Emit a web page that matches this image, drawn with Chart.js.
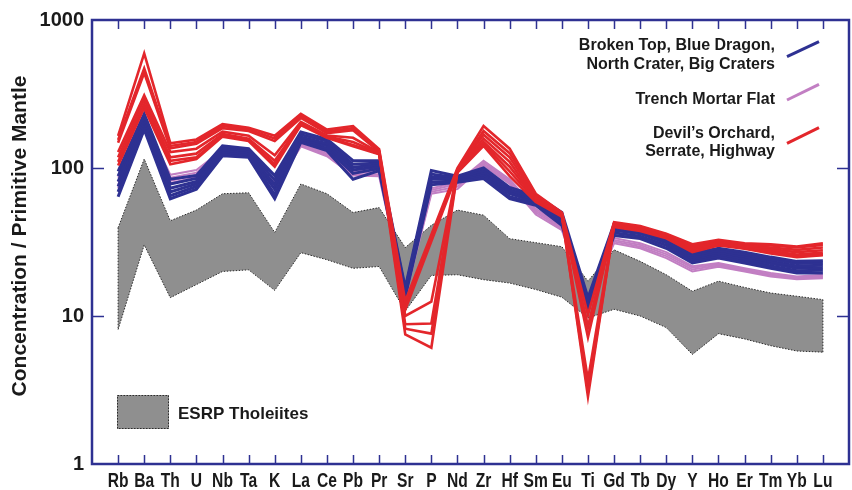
<!DOCTYPE html>
<html>
<head>
<meta charset="utf-8">
<script src="https://cdn.jsdelivr.net/npm/chart.js@4/dist/chart.umd.min.js"></script>
<style>
  html, body { margin: 0; padding: 0; background: #ffffff; }
  #wrap { width: 852px; height: 490px; position: relative; }
</style>
</head>
<body>
<div id="wrap"><canvas id="spider" width="852" height="490"></canvas></div>
<script>
// Trace elements, ordered by incompatibility
const elements = ['Rb','Ba','Th','U','Nb','Ta','K','La','Ce','Pb','Pr','Sr','P','Nd','Zr','Hf','Sm','Eu','Ti','Gd','Tb','Dy','Y','Ho','Er','Tm','Yb','Lu'];
const yTickValues = [1, 10, 100, 1000];

// ESRP tholeiite field (upper and lower envelope)
const esrpUpper = [39.5, 115, 44, 52, 67, 68, 36.7, 78, 67, 50, 54, 29, 41, 52, 48, 33.3, 31.3, 29.4, 17.2, 28, 23.4, 19, 14.7, 17.2, 15.6, 14.3, 13.6, 12.9];
const esrpLower = [8.1, 30.2, 13.3, 16.3, 20, 20.5, 14.9, 26.8, 24, 21, 21.6, 10.8, 18.8, 19, 17.6, 16.7, 15.1, 13.4, 9.7, 11.1, 10, 8.35, 5.5, 7.6, 7.0, 6.3, 5.8, 5.7];

// Broken Top, Blue Dragon, North Crater, Big Craters
const blueSamples = [
  [95, 232, 84, 89, 141, 135, 89, 175, 157, 112, 112, 15.5, 96, 88, 100, 74, 65, 50, 13.3, 42, 40, 35, 26.5, 28.7, 27, 25, 23.4, 23.6],
  [88, 222, 78, 85, 137, 131, 83, 168, 152, 106, 108, 15.0, 91, 86, 96, 71, 63, 48, 12.8, 41, 38.5, 33.5, 25.8, 27.8, 26, 24.2, 22.6, 22.8],
  [81, 212, 73, 81, 133, 127, 77, 162, 146, 101, 105, 14.6, 87, 85, 93, 69, 61, 46, 12.4, 39.5, 37, 32.3, 25, 27, 25.2, 23.4, 21.8, 22],
  [75, 203, 69, 78, 129, 124, 72, 157, 141, 97, 102, 14.2, 84, 84, 90, 67, 59, 44.5, 12.0, 38, 36, 31.2, 24.3, 26.2, 24.4, 22.6, 21, 21.2],
  [69, 193, 65, 75, 125, 121, 66, 153, 136, 92, 99, 13.9, 80, 82, 87, 64, 57.5, 42.5, 11.7, 36.5, 34.6, 30, 23.5, 25.4, 23.6, 21.8, 20.2, 20.4],
  [64, 182, 62, 72, 121, 118, 62, 149, 131, 84, 96, 13.6, 77, 80, 85, 62, 56, 41, 11.4, 35, 33.4, 28.7, 22.8, 24.6, 22.8, 21, 19.5, 19.5]
];

// Trench Mortar Flat
const purpleSamples = [
  [86, 205, 90, 97, 133, 128, 82, 150, 128, 96, 96, 14.6, 73, 80, 112, 84, 53, 41, 12.8, 33.6, 31, 27, 21.7, 22.8, 21, 19.5, 18.5, 19],
  [81, 196, 86, 93, 129, 125, 78, 146, 125, 94, 93, 14.2, 71, 78, 109, 82, 51.5, 40, 12.5, 32.6, 30.2, 26.2, 21.2, 22.4, 20.6, 19.1, 18.2, 18.6],
  [77, 188, 82, 90, 126, 122, 75, 143, 122, 91, 90, 13.9, 69, 75, 106, 80, 50, 39, 12.2, 31.8, 29.4, 25.4, 20.6, 21.9, 20.3, 18.8, 17.9, 18.3],
  [73, 180, 79, 87, 123, 119, 72, 140, 120, 89, 88, 13.6, 67, 72, 104, 78, 48.5, 38, 12, 31, 28.7, 24.6, 20, 21.5, 20, 18.5, 17.7, 18]
];

// Devil's Orchard, Serrate, Highway (null = not analysed)
const redSamples = [
  [165, 595, 147, 156, 198, 187, 165, 232, 182, 192, 134, 12.6, null, 100, 192, 135, 67, 50, 10.2, 43, 40.5, 36, 30.5, 32.7, 31, 30.5, 29.5, 31],
  [155, 470, 141, 150, 192, 182, 158, 225, 177, 186, 131, 11.8, null, 98, 178, 126, 66, 49.5, 8.5, 42.5, 40, 35.5, 30, 32.2, 30.5, 30, 29, 30.2],
  [148, 440, 136, 146, 186, 178, 152, 218, 172, 180, 129, 10.0, 12.5, 97, 168, 118, 64, 49, 7.2, 42, 39.5, 35.2, 29.3, 31.8, 30, 29, 28, 29],
  [128, 310, 128, 135, 176, 165, 122, 205, 166, 160, 127, 8.8, 8.9, 96, 158, 110, 62, 48.5, 3.7, 41.5, 39, 34.8, 28.6, 31.2, 29.5, 28.2, 27, 27.8],
  [118, 290, 118, 125, 170, 158, 112, 200, 163, 150, 126, 8.2, 7.6, 95, 150, 102, 61, 48, 2.85, 41, 38.5, 34.5, 28, 30.8, 29, 27.5, 26, 26.8],
  [110, 270, 112, 118, 166, 154, 106, 197, 161, 143, 125, 7.5, 6.1, 94, 145, 95, 60, 47.5, 3.1, 40.5, 38, 34, 27.4, 30.4, 28.7, 27, 25.3, 26],
  [104, 255, 106, 115, 163, 152, 102, 195, 160, 140, 124, 11.0, null, 93, 141, 88, 59, 47, 8.4, 40, 37.5, 33.5, 27, 30, 28.5, 26.5, 25, 25.8]
];

const BLUE = '#2e3192';
const PURPLE = '#c27fc3';
const RED = '#e3262b';
const GREY = '#8f8f8f';
const FRAME = '#2e3192';
const TEXT = '#1a1a1a';
const BOLD = '"Liberation Sans", Arial, sans-serif';

const toPoints = vals => vals.map((v, i) => ({ x: i, y: v }));

function sampleSet(list, color, width) {
  return list.map(vals => ({
    data: toPoints(vals),
    borderColor: color,
    borderWidth: width,
    pointRadius: 0,
    fill: false,
    tension: 0,
    spanGaps: true
  }));
}

const outline = {
  borderColor: '#2b2b2b',
  borderWidth: 1,
  borderDash: [1.5, 1.5],
  pointRadius: 0,
  fill: false,
  tension: 0
};
const last = elements.length - 1;

const datasets = [
  ...sampleSet(redSamples, RED, 2.6),
  ...sampleSet(blueSamples, BLUE, 3),
  ...sampleSet(purpleSamples, PURPLE, 2),
  Object.assign({ data: toPoints(esrpUpper) }, outline),
  Object.assign({ data: toPoints(esrpLower) }, outline),
  Object.assign({ data: [{ x: 0, y: esrpUpper[0] }, { x: 0, y: esrpLower[0] }] }, outline),
  Object.assign({ data: [{ x: last, y: esrpUpper[last] }, { x: last, y: esrpLower[last] }] }, outline),
  { data: toPoints(esrpUpper), borderWidth: 0, pointRadius: 0, backgroundColor: GREY, fill: '+1', tension: 0 },
  { data: toPoints(esrpLower), borderWidth: 0, pointRadius: 0, fill: false, tension: 0 }
];

// Frame, inward tick marks, element labels, axis title and the key
const decorations = {
  id: 'decorations',
  afterDraw(chart) {
    const ctx = chart.ctx;
    const a = chart.chartArea;
    const xs = chart.scales.x;
    const ys = chart.scales.y;
    ctx.save();

    // inward ticks
    ctx.strokeStyle = FRAME;
    ctx.lineWidth = 1.5;
    ctx.beginPath();
    elements.forEach((_, i) => {
      const px = Math.round(xs.getPixelForValue(i)) + 0.5;
      ctx.moveTo(px, a.bottom); ctx.lineTo(px, a.bottom - 9);
      ctx.moveTo(px, a.top); ctx.lineTo(px, a.top + 9);
    });
    [10, 100].forEach(v => {
      const py = Math.round(ys.getPixelForValue(v)) + 0.5;
      ctx.moveTo(a.left, py); ctx.lineTo(a.left + 12, py);
      ctx.moveTo(a.right, py); ctx.lineTo(a.right - 12, py);
    });
    ctx.stroke();

    // frame
    ctx.lineWidth = 2.5;
    ctx.strokeRect(a.left, a.top, a.right - a.left, a.bottom - a.top);

    // element names under each tick, in a condensed bold face
    ctx.fillStyle = TEXT;
    ctx.font = 'bold 20px ' + BOLD;
    ctx.textAlign = 'center';
    ctx.textBaseline = 'middle';
    elements.forEach((el, i) => {
      ctx.save();
      ctx.translate(xs.getPixelForValue(i), a.bottom + 17);
      ctx.scale(0.78, 1);
      ctx.fillText(el, 0, 0);
      ctx.restore();
    });

    // y-axis title
    ctx.save();
    ctx.translate(20, (a.top + a.bottom) / 2 - 6);
    ctx.rotate(-Math.PI / 2);
    ctx.font = 'bold 21px ' + BOLD;
    ctx.fillStyle = TEXT;
    ctx.textAlign = 'center';
    ctx.textBaseline = 'middle';
    ctx.fillText('Concentration / Primitive Mantle', 0, 0);
    ctx.restore();

    // key for the sample groups
    const keys = [
      { lines: ['Broken Top, Blue Dragon,', 'North Crater, Big Craters'], base: [50, 68.5], color: BLUE, y0: 56.7, y1: 41.7 },
      { lines: ['Trench Mortar Flat'], base: [103.5], color: PURPLE, y0: 100, y1: 84.3 },
      { lines: ['Devil\u2019s Orchard,', 'Serrate, Highway'], base: [137.5, 156], color: RED, y0: 143.3, y1: 127.7 }
    ];
    ctx.font = 'bold 16px ' + BOLD;
    ctx.fillStyle = TEXT;
    ctx.textAlign = 'right';
    ctx.textBaseline = 'alphabetic';
    keys.forEach(k => {
      k.lines.forEach((t, j) => ctx.fillText(t, 775, k.base[j]));
      ctx.strokeStyle = k.color;
      ctx.lineWidth = 3;
      ctx.beginPath();
      ctx.moveTo(787, k.y0);
      ctx.lineTo(819, k.y1);
      ctx.stroke();
    });

    // key for the tholeiite field
    ctx.fillStyle = GREY;
    ctx.fillRect(117, 395, 52, 34);
    ctx.strokeStyle = '#2b2b2b';
    ctx.lineWidth = 1;
    ctx.setLineDash([1.5, 1.5]);
    ctx.strokeRect(117.5, 395.5, 51, 33);
    ctx.setLineDash([]);
    ctx.fillStyle = TEXT;
    ctx.textAlign = 'left';
    ctx.font = 'bold 17px ' + BOLD;
    ctx.fillText('ESRP Tholeiites', 178, 418.5);

    ctx.restore();
  }
};

new Chart(document.getElementById('spider'), {
  type: 'line',
  data: { datasets },
  options: {
    responsive: false,
    animation: false,
    devicePixelRatio: 1,
    layout: { padding: { left: 0, top: 17, right: 3, bottom: 0 } },
    plugins: { legend: { display: false }, tooltip: { enabled: false } },
    scales: {
      x: {
        type: 'linear',
        min: -1,
        max: elements.length,
        grid: { display: false, drawTicks: false },
        border: { display: false },
        afterBuildTicks: s => { s.ticks = elements.map((_, i) => ({ value: i })); },
        afterFit: s => { s.height = 26; },
        ticks: { display: false }
      },
      y: {
        type: 'logarithmic',
        min: 1,
        max: 1000,
        grid: { display: false, drawTicks: false },
        border: { display: false },
        afterBuildTicks: s => { s.ticks = yTickValues.map(v => ({ value: v })); },
        afterFit: s => { s.width = 92; },
        ticks: {
          padding: 8,
          color: TEXT,
          font: { family: BOLD, size: 20, weight: 'bold' },
          callback: v => String(v)
        }
      }
    }
  },
  plugins: [decorations]
});
</script>
</body>
</html>
